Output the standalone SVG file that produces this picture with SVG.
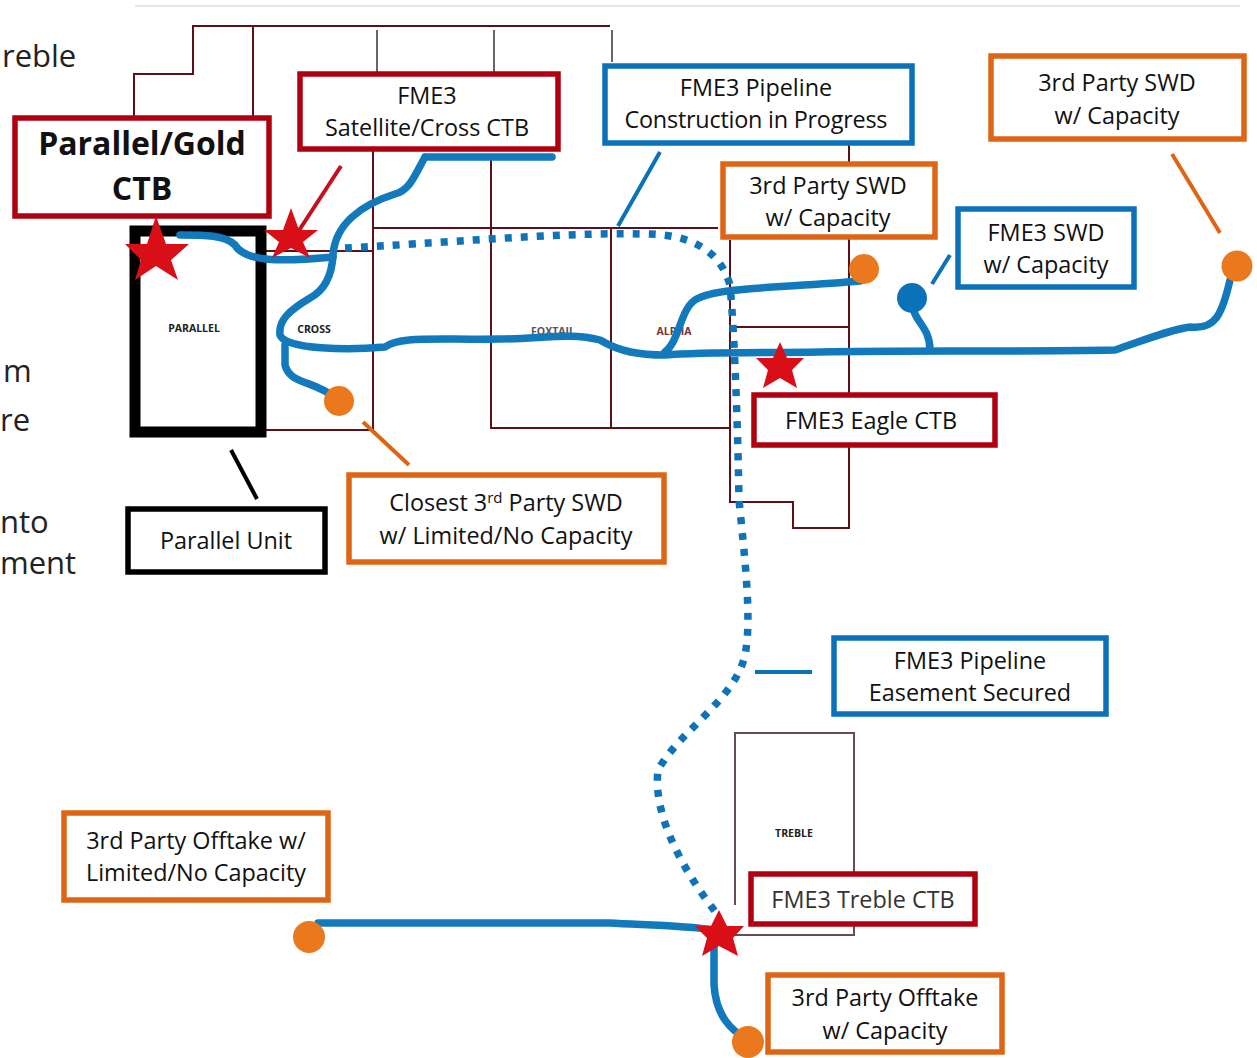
<svg xmlns="http://www.w3.org/2000/svg" width="1257" height="1058" viewBox="0 0 1257 1058">
<style>
text{font-family:"Open Sans","Noto Sans","Liberation Sans",sans-serif;fill:#111;text-anchor:middle}
.t{font-size:23.4px}
.side{font-size:31px;text-anchor:start;fill:#222}
.map{font-size:10.5px;font-weight:700;fill:#222}
.box{fill:#fff;stroke-width:5.5}
.red{stroke:#b00010}.blue{stroke:#0b72b9}.org{stroke:#df6516}.blk{stroke:#000}
.lease{fill:none;stroke:#5e1018;stroke-width:2}
.tick{fill:none;stroke:#666;stroke-width:2}
.pipe{fill:none;stroke:#1379bd;stroke-width:7.5;stroke-linecap:round;stroke-linejoin:round}
.dot{fill:none;stroke:#0e73b8;stroke-width:7.5;stroke-dasharray:7 9}
.lead{fill:none;stroke-width:4}
.star{fill:#d90f18}
.od{fill:#e9791c}
</style>
<g id="background"><rect width="1257" height="1058" fill="#fff"/><path d="M135 6H1240" stroke="#e6e6e6" stroke-width="2" fill="none"/></g>
<g id="side-text">
<text class="side" x="2" y="67">reble</text>
<text class="side" x="3" y="382">m</text>
<text class="side" x="0" y="431">re</text>
<text class="side" x="0" y="533">nto</text>
<text class="side" x="0" y="574">ment</text>
</g>
<g id="lease-lines">
<path class="lease" d="M134 116V74H193V26H610M253 26V116M373 150V430H266M491 155V428H730M611 228V428M373 228H718M266 251H373M730 240V502H793V528H849V140M733 327H849"/>
<path class="tick" d="M377 30V72M494 30V72M612 30V62"/>
<path fill="none" stroke="#6b4a50" stroke-width="2" d="M735 905V733H854V875M735 935H854V920"/>
</g>
<g id="map-labels">
<text class="map" x="194" y="332">PARALLEL</text>
<text class="map" x="314" y="333">CROSS</text>
<text class="map" x="553" y="335" style="fill:#555">FOXTAIL</text>
<text class="map" x="674" y="335" style="fill:#733">ALPHA</text>
<text class="map" x="794" y="837">TREBLE</text>
</g>
<g id="connectors">
<rect x="135" y="231" width="126" height="201" fill="none" stroke="#000" stroke-width="11"/>
<path class="pipe" d="M425 157H552M425 157C415 175 410 190 395 194C360 205 335 225 333 255C332 275 325 290 310 298C290 310 278 320 280 335C285 350 350 350 385 347C400 336 430 340 500 339C540 339 570 332 600 340C620 352 640 355 665 355C700 352 760 353 820 352C900 350 1000 352 1115 350C1150 338 1170 330 1190 327C1215 330 1222 315 1230 280"/>
<path class="pipe" d="M180 235C205 235 225 235 235 245C245 262 280 262 333 257"/>
<path class="pipe" d="M285 345V365C290 385 315 380 335 398"/>
<path class="pipe" d="M665 352C680 340 680 310 695 300C715 287 780 288 860 281"/>
<path class="pipe" d="M930 350C930 325 912 322 912 300"/>
<path class="pipe" d="M318 923H610C640 925 680 925 715 930M714 945V985C716 1015 730 1030 748 1040"/>
<path class="dot" d="M345 248C430 244 560 232 640 234C690 233 720 250 730 285C735 340 738 440 739 500C745 560 752 620 745 655C735 700 680 730 658 770C652 820 690 880 718 915"/>
<path class="lead" stroke="#c4101c" d="M341 166L298 232"/>
<path class="lead" stroke="#0b72b9" d="M660 152L618 226M950 255L932 284M755 672H812"/>
<path class="lead" stroke="#df6516" d="M1172 154L1220 233M363 422L409 465"/>
<path class="lead" stroke="#000" stroke-width="5" d="M231 450L257 499"/>
</g>
<g id="parallel-star"><polygon class="star" points="156,216 166,244 189,244 171,260 178,280 156,266 135,280 141,260 125,244 147,244"/></g>
<g id="cross-star"><polygon class="star" points="291,208 299,230 318,230 303,242 310,258 291,248 272,258 279,242 264,230 283,230"/></g>
<g id="eagle-star"><polygon class="star" points="780,342 787,358 804,358 792,370 797,388 780,378 763,388 768,370 756,358 773,358"/></g>
<g id="treble-star"><polygon class="star" points="719,910 727,926 744,926 733,938 738,956 719,946 702,956 707,938 695,926 711,926"/></g>
<g id="dots">
<circle class="od" cx="339" cy="401" r="15"/><circle class="od" cx="864" cy="269" r="15"/><circle class="od" cx="1237" cy="266" r="15.5"/><circle class="od" cx="309" cy="937" r="16"/><circle class="od" cx="748" cy="1042" r="16"/>
<circle cx="912" cy="298" r="15" fill="#0b72b9"/>
</g>
<g id="parallel-gold"><rect class="box red" x="15" y="118" width="254" height="98"/><text x="142" y="155" font-size="32" font-weight="700">Parallel/Gold</text><text x="142" y="200" font-size="32" font-weight="700">CTB</text></g>
<g id="satellite-cross"><rect class="box red" x="300" y="74" width="258" height="75"/><text class="t" x="427" y="104">FME3</text><text class="t" x="427" y="136" textLength="204">Satellite/Cross CTB</text></g>
<g id="construction"><rect class="box blue" x="605" y="66" width="307" height="77"/><text class="t" x="756" y="96">FME3 Pipeline</text><text class="t" x="756" y="128" textLength="263">Construction in Progress</text></g>
<g id="swd-center"><rect class="box org" x="723" y="164" width="212" height="73"/><text class="t" x="828" y="194">3rd Party SWD</text><text class="t" x="828" y="226">w/ Capacity</text></g>
<g id="swd-fme3"><rect class="box blue" x="958" y="209" width="176" height="78"/><text class="t" x="1046" y="241">FME3 SWD</text><text class="t" x="1046" y="273">w/ Capacity</text></g>
<g id="swd-right"><rect class="box org" x="991" y="56" width="253" height="83"/><text class="t" x="1117" y="91">3rd Party SWD</text><text class="t" x="1117" y="124">w/ Capacity</text></g>
<g id="eagle"><rect class="box red" x="754" y="395" width="241" height="50"/><text class="t" x="871" y="429">FME3 Eagle CTB</text></g>
<g id="parallel-unit"><rect class="box blk" x="128" y="509" width="197" height="63"/><text class="t" x="226" y="549">Parallel Unit</text></g>
<g id="closest-swd"><rect class="box org" x="349" y="475" width="315" height="87"/><text class="t" x="506" y="511">Closest 3<tspan font-size="15" dy="-8">rd</tspan><tspan dy="8"> Party SWD</tspan></text><text class="t" x="506" y="544">w/ Limited/No Capacity</text></g>
<g id="easement"><rect class="box blue" x="834" y="638" width="272" height="76"/><text class="t" x="970" y="669">FME3 Pipeline</text><text class="t" x="970" y="701">Easement Secured</text></g>
<g id="treble-ctb"><rect class="box red" x="751" y="874" width="224" height="50"/><text class="t" x="863" y="908" style="fill:#333">FME3 Treble CTB</text></g>
<g id="offtake-limited"><rect class="box org" x="64" y="813" width="264" height="87"/><text class="t" x="196" y="849">3rd Party Offtake w/</text><text class="t" x="196" y="881">Limited/No Capacity</text></g>
<g id="offtake-capacity"><rect class="box org" x="768" y="975" width="234" height="77"/><text class="t" x="885" y="1006">3rd Party Offtake</text><text class="t" x="885" y="1039">w/ Capacity</text></g>
</svg>
